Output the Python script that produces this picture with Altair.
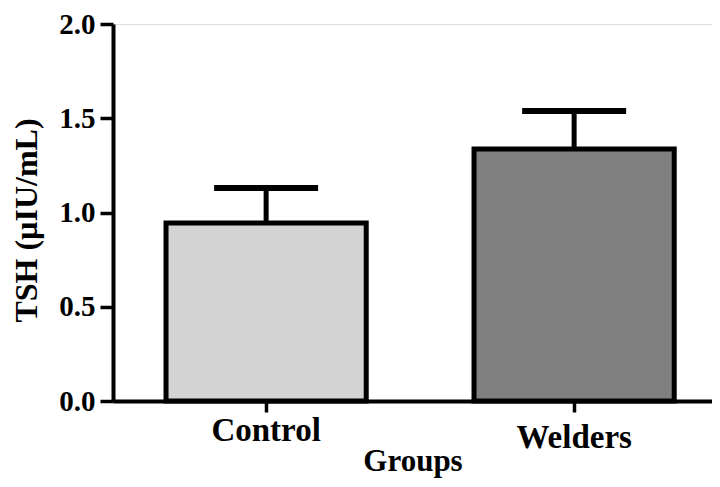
import altair as alt
import pandas as pd

groups = ["Control", "Welders"]
means = [0.944, 1.337]
errors = [0.186, 0.201]
fills = ["#d3d3d3", "#808080"]
y_ticks = [0.0, 0.5, 1.0, 1.5, 2.0]

df = pd.DataFrame({"group": groups, "mean": means, "err": errors, "fill": fills})
df["upper"] = df["mean"] + df["err"]

FONT = "Liberation Serif, Times New Roman, serif"

x_axis = alt.Axis(
    labelAngle=0, labelFont=FONT, labelFontWeight="bold", labelFontSize=33,
    labelColor="black", labelPadding=alt.ExprRef("datum.value === 'Welders' ? 9 : 2"),
    tickSize=11, tickWidth=3.5, tickColor="black",
    domainWidth=4, domainColor="black",
    titleFont=FONT, titleFontSize=31, titleFontWeight="bold", titleColor="black",
    titlePadding=-8,
)
x = alt.X("group:N", sort=groups, title="Groups",
          scale=alt.Scale(paddingInner=0.35, paddingOuter=0.1474, align=0.584),
          axis=x_axis)

y_axis = alt.Axis(
    values=y_ticks, format=".1f", title="TSH (µIU/mL)", grid=False,
    labelFont=FONT, labelFontWeight="bold", labelFontSize=29, labelColor="black",
    labelPadding=5, tickSize=13, tickWidth=3.5, tickColor="black",
    domainWidth=4, domainColor="black",
    titleFont=FONT, titleFontSize=32, titleFontWeight="bold", titleColor="black",
    titlePadding=15, titleY=196,
)
yscale = alt.Scale(domain=[0, 2], nice=False, zero=True)

base = alt.Chart(df)

stem = base.mark_rule(strokeWidth=5, color="black").encode(
    x=x, y=alt.Y("mean:Q", scale=yscale, axis=y_axis), y2="upper:Q")

bars = base.mark_bar(stroke="black", strokeWidth=5, strokeJoin="miter").encode(
    x=x, y=alt.Y("mean:Q", scale=yscale, axis=y_axis),
    color=alt.Color("fill:N", scale=None))

cap = base.mark_tick(size=104, thickness=6, color="black", opacity=1).encode(
    x=x, y=alt.Y("upper:Q", scale=yscale, axis=y_axis))

chart = alt.layer(stem, bars, cap).properties(
    width=599, height=377,
    autosize=alt.AutoSizeParams(type="none"),
    padding={"left": 105, "top": 16, "right": 0, "bottom": 78},
).configure_view(stroke=None).configure(background="white")

chart.save("out.html", embed_options={"renderer": "svg", "actions": False})
